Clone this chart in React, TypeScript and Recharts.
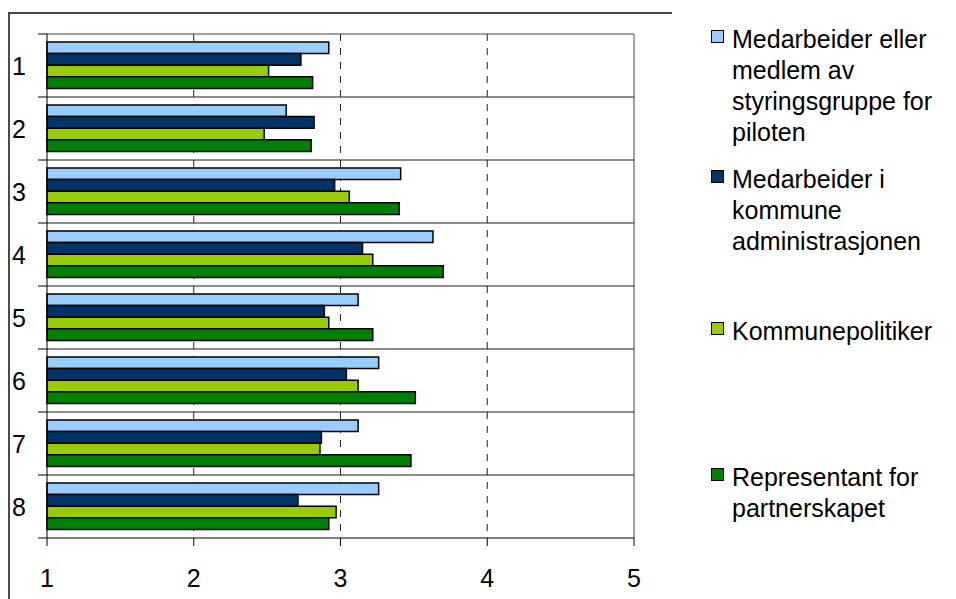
import { BarChart, Bar, XAxis, YAxis, CartesianGrid } from 'recharts'

const categories = ['1', '2', '3', '4', '5', '6', '7', '8']
const styringsgruppe = [2.92, 2.63, 3.41, 3.63, 3.12, 3.26, 3.12, 3.26]
const administrasjon = [2.73, 2.82, 2.96, 3.15, 2.89, 3.04, 2.87, 2.71]
const politiker = [2.51, 2.48, 3.06, 3.22, 2.92, 3.12, 2.86, 2.97]
const partnerskap = [2.81, 2.8, 3.4, 3.7, 3.22, 3.51, 3.48, 2.92]
const xTicks = [1, 2, 3, 4, 5]
const dashedAt = [2, 3, 4]

const series = [
  { key: 'styringsgruppe', name: 'Medarbeider eller medlem av styringsgruppe for piloten', color: '#99CCFF' },
  { key: 'administrasjon', name: 'Medarbeider i kommune administrasjonen', color: '#003366' },
  { key: 'politiker', name: 'Kommunepolitiker', color: '#99CC00' },
  { key: 'partnerskap', name: 'Representant for partnerskapet', color: '#008000' },
]

const data = categories.map((name, i) => ({
  name,
  styringsgruppe: styringsgruppe[i],
  administrasjon: administrasjon[i],
  politiker: politiker[i],
  partnerskap: partnerskap[i],
}))

const FONT = '"Liberation Sans", Arial, sans-serif'
const W = 956
const H = 599
const PLOT_TOP = 34
const PLOT_BOTTOM = 538
const PLOT_LEFT = 47
const PLOT_RIGHT = 634
const BAND = (PLOT_BOTTOM - PLOT_TOP) / categories.length
const Y_TICK_SIZE = 9
const Y_TICK_MARGIN = 12

// legend entries are spread down the right-hand side
const LEGEND_TOPS = [24, 164, 316, 462]

const CategoryTick = (props: any) => {
  const { x, y, payload, index } = props
  const x1 = x + Y_TICK_MARGIN
  const x2 = x1 + Y_TICK_SIZE
  const top = y - BAND / 2
  const bottom = y + BAND / 2
  return (
    <g>
      <line x1={x1} x2={x2} y1={top} y2={top} stroke="#000" />
      {index === categories.length - 1 && <line x1={x1} x2={x2} y1={bottom} y2={bottom} stroke="#000" />}
      <text x={x} y={y} dy="0.36em" textAnchor="end" fontSize={25} fontFamily={FONT} fill="#000">
        {payload.value}
      </text>
    </g>
  )
}

function LegendBox() {
  return (
    <>
      {series.map((s, i) => (
        <div
          key={s.key}
          style={{
            position: 'absolute',
            left: 711,
            top: LEGEND_TOPS[i],
            width: 235,
            fontFamily: FONT,
            fontSize: 25,
            lineHeight: '31px',
            color: '#000',
          }}
        >
          <span
            style={{
              position: 'absolute',
              left: 0,
              top: 6,
              width: 11,
              height: 11,
              background: s.color,
              border: '1px solid #000',
            }}
          />
          <div style={{ marginLeft: 21, width: 212 }}>{s.name}</div>
        </div>
      ))}
    </>
  )
}

export default function App() {
  return (
    <div style={{ position: 'absolute', left: 0, top: 0, width: W, height: H, background: '#fff' }}>
      <div
        style={{
          position: 'absolute',
          left: 8,
          top: 12,
          width: 664,
          height: H - 12,
          borderTop: '2px solid #4a4a4a',
          borderLeft: '2px solid #4a4a4a',
          boxSizing: 'border-box',
        }}
      />
      <BarChart
        width={W}
        height={H}
        layout="vertical"
        data={data}
        margin={{ top: PLOT_TOP, right: W - PLOT_RIGHT, bottom: 0, left: 0 }}
        barGap={0}
        style={{ position: 'absolute', left: 0, top: 0 }}
      >
        {/* plot frame: grey on top and right */}
        <CartesianGrid
          stroke="#a0a0a0"
          strokeWidth={2}
          horizontalCoordinatesGenerator={({ offset }: any) => [offset.top]}
          verticalCoordinatesGenerator={({ offset }: any) => [offset.left + offset.width]}
        />
        {/* solid lines between categories */}
        <CartesianGrid
          vertical={false}
          stroke="#1a1a1a"
          horizontalCoordinatesGenerator={({ offset }: any) =>
            categories.slice(1).map((_, i) => offset.top + ((i + 1) * offset.height) / categories.length)
          }
        />
        <CartesianGrid horizontal={false} verticalValues={dashedAt} stroke="#222" strokeDasharray="7 7" />
        <XAxis
          type="number"
          domain={[1, 5]}
          ticks={xTicks}
          interval={0}
          height={H - PLOT_BOTTOM}
          axisLine={{ stroke: '#000' }}
          tickLine={{ stroke: '#000' }}
          tickSize={8}
          tickMargin={23}
          tick={{ fontSize: 25, fontFamily: FONT, fill: '#000' }}
        />
        <YAxis
          type="category"
          dataKey="name"
          width={PLOT_LEFT}
          axisLine={{ stroke: '#000' }}
          tickLine={false}
          tickSize={Y_TICK_SIZE}
          tickMargin={Y_TICK_MARGIN}
          interval={0}
          tick={<CategoryTick />}
        />
        {series.map(s => (
          <Bar
            key={s.key}
            dataKey={s.key}
            name={s.name}
            fill={s.color}
            stroke="#000"
            strokeWidth={1.5}
            barSize={11.6}
            isAnimationActive={false}
          />
        ))}
      </BarChart>
      <LegendBox />
    </div>
  )
}
